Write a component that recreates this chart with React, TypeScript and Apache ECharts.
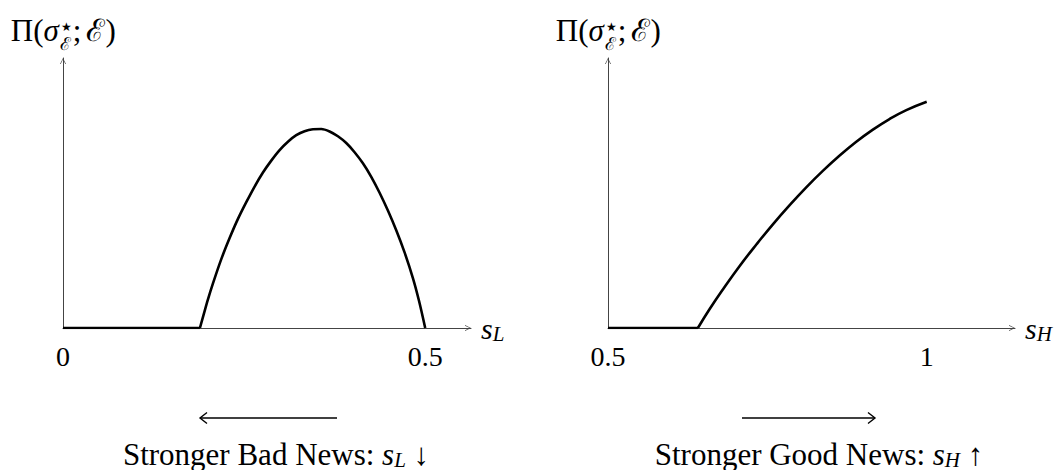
import React, { useEffect, useRef } from "react";
import * as echarts from "echarts";

const FONT = '"Liberation Serif", "DejaVu Serif", serif';

// ---- Left panel: payoff against s_L ----
const leftTickValues = [0, 0.5];
const leftAxisMax = 0.5632;
const leftFlat: [number, number][] = [
  [0, 0],
  [0.189, 0],
];
const leftCurve: [number, number][] = [
  [0.189, 0],
  [0.195, 0.058],
  [0.2, 0.105],
  [0.207, 0.165],
  [0.2185, 0.255],
  [0.23, 0.333],
  [0.2415, 0.404],
  [0.253, 0.466],
  [0.2645, 0.524],
  [0.276, 0.576],
  [0.2875, 0.62],
  [0.299, 0.659],
  [0.3105, 0.69],
  [0.322, 0.714],
  [0.3335, 0.729],
  [0.345, 0.736],
  [0.3565, 0.737],
  [0.368, 0.728],
  [0.3795, 0.71],
  [0.391, 0.685],
  [0.4025, 0.651],
  [0.414, 0.61],
  [0.4255, 0.56],
  [0.437, 0.501],
  [0.4485, 0.435],
  [0.46, 0.362],
  [0.4715, 0.28],
  [0.483, 0.185],
  [0.4915, 0.1],
  [0.5, 0],
];

// ---- Right panel: payoff against s_H ----
const rightTickValues = [0.5, 1];
const rightAxisMax = 1.1385;
const rightFlat: [number, number][] = [
  [0.5, 0],
  [0.641, 0],
];
const rightCurve: [number, number][] = [
  [0.641, 0],
  [0.66, 0.072],
  [0.68, 0.142],
  [0.706, 0.228],
  [0.733, 0.31],
  [0.759, 0.385],
  [0.785, 0.455],
  [0.811, 0.521],
  [0.837, 0.582],
  [0.863, 0.638],
  [0.889, 0.689],
  [0.915, 0.734],
  [0.941, 0.773],
  [0.968, 0.807],
  [1, 0.838],
];

const leftAxisSub = "L";
const rightAxisSub = "H";
const leftCaption = "Stronger Bad News: ";
const rightCaption = "Stronger Good News: ";

function measure(text: string, size: number, italic = false): number {
  const c = document.createElement("canvas").getContext("2d");
  if (!c) return text.length * size * 0.5;
  c.font = `${italic ? "italic " : ""}${size}px ${FONT}`;
  return c.measureText(text).width;
}

function txt(x: number, y: number, text: string, size: number, italic = false) {
  return {
    type: "text",
    x,
    y,
    silent: true,
    style: {
      text,
      fontSize: size,
      fontFamily: FONT,
      fontStyle: italic ? "italic" : "normal",
      fill: "#000",
      align: "left",
      verticalAlign: "middle",
    },
  };
}

function titleElements(cx: number) {
  const fs = 31;
  const fsStar = 12;
  const fsS = 18;
  const baseline = 41;
  const mid = baseline - 0.34 * fs;
  const wA = measure("Π(", fs);
  const wSig = measure("σ", fs, true);
  const wStar = measure("★", fsStar);
  const wE = measure("ℰ", fsS);
  const wScript = Math.max(wStar, wE);
  const wSemi = measure(";", fs);
  const wE2 = measure("ℰ", fs);
  const wP = measure(")", fs);
  const total = wA + wSig + 1 + wScript + 2 + wSemi + 5 + wE2 + wP;
  let x = cx - total / 2;
  const els: any[] = [];
  els.push(txt(x, mid, "Π(", fs));
  x += wA;
  els.push(txt(x, mid, "σ", fs, true));
  x += wSig + 1;
  els.push(txt(x + (wScript - wStar) / 2 + 1, 27, "★", fsStar));
  els.push(txt(x, 43.5, "ℰ", fsS));
  x += wScript + 2;
  els.push(txt(x, mid, ";", fs));
  x += wSemi + 5;
  els.push(txt(x, mid, "ℰ", fs));
  x += wE2;
  els.push(txt(x, mid, ")", fs));
  return els;
}

const richAxis = {
  s: { fontStyle: "italic", fontSize: 30, lineHeight: 32, fontFamily: FONT, color: "#000" },
  sub: {
    fontStyle: "italic",
    fontSize: 21,
    lineHeight: 21,
    verticalAlign: "bottom",
    fontFamily: FONT,
    color: "#000",
  },
};

const richCaption = {
  s: { fontStyle: "italic", fontSize: 31, lineHeight: 32, fontFamily: FONT, color: "#000" },
  sub: {
    fontStyle: "italic",
    fontSize: 21,
    lineHeight: 21,
    verticalAlign: "bottom",
    fontFamily: FONT,
    color: "#000",
  },
};

const arrowSym = "path://M0,10 L5,0 L10,10 L8.8,10 L5,2.2 L1.2,10 Z";

function xAxisCfg(grid: number, min: number, max: number, ticks: number[], sub: string) {
  return {
    type: "value",
    gridIndex: grid,
    min,
    max,
    interval: 0.5,
    axisLine: {
      show: true,
      onZero: false,
      symbol: ["none", arrowSym],
      symbolSize: [10, 6],
      symbolOffset: [0, -3],
      lineStyle: { color: "#444", width: 1 },
    },
    axisTick: { show: false },
    splitLine: { show: false },
    axisLabel: {
      show: true,
      showMaxLabel: false,
      margin: 14,
      color: "#000",
      fontSize: 28,
      fontFamily: FONT,
      formatter: (v: number) => (ticks.some((t) => Math.abs(t - v) < 1e-9) ? String(v) : ""),
    },
    name: `{s|s}{sub|${sub}}`,
    nameLocation: "end",
    nameGap: 10,
    nameTextStyle: { fontFamily: FONT, fontSize: 30, color: "#000", rich: richAxis },
  };
}

function yAxisCfg(grid: number) {
  return {
    type: "value",
    gridIndex: grid,
    min: 0,
    max: 1,
    axisLine: {
      show: true,
      onZero: false,
      symbol: ["none", arrowSym],
      symbolSize: [10, 6],
      symbolOffset: [0, -3],
      lineStyle: { color: "#444", width: 1 },
    },
    axisTick: { show: false },
    axisLabel: { show: false },
    splitLine: { show: false },
  };
}

function lineSeries(axis: number, data: [number, number][], smooth: number | boolean) {
  return {
    type: "line",
    xAxisIndex: axis,
    yAxisIndex: axis,
    data,
    smooth,
    symbol: "none",
    lineStyle: { color: "#000", width: 2.6 },
    z: 5,
  };
}

function bottomArrow(x1: number, x2: number, y: number, headLeft: boolean) {
  const hx = headLeft ? x1 : x2;
  const d = headLeft ? 7 : -7;
  return [
    {
      type: "line",
      silent: true,
      shape: { x1, y1: y, x2, y2: y },
      style: { stroke: "#000", lineWidth: 1.6 },
    },
    {
      type: "polyline",
      silent: true,
      shape: {
        points: [
          [hx + d, y - 5.5],
          [hx, y],
          [hx + d, y + 5.5],
        ],
      },
      style: { stroke: "#000", lineWidth: 1.4, fill: "none" },
    },
  ];
}

function caption(cx: number, y: number, prefix: string, sub: string, arrow: string) {
  return {
    type: "text",
    x: cx,
    y,
    silent: true,
    style: {
      text: `${prefix}{s|s}{sub|${sub}} ${arrow}`,
      rich: richCaption,
      fontSize: 31,
      fontFamily: FONT,
      lineHeight: 32,
      fill: "#000",
      align: "center",
      verticalAlign: "middle",
    },
  };
}

export default function App() {
  const ref = useRef<HTMLDivElement>(null);

  useEffect(() => {
    document.body.style.margin = "0";
    document.body.style.overflow = "hidden";
    if (!ref.current) return;
    const chart = echarts.init(ref.current, undefined, { renderer: "svg" });
    const option: any = {
      animation: false,
      backgroundColor: "#fff",
      grid: [
        { left: 63, top: 58, width: 408, height: 270 },
        { left: 608, top: 58, width: 407, height: 270 },
      ],
      xAxis: [
        xAxisCfg(0, 0, leftAxisMax, leftTickValues, leftAxisSub),
        xAxisCfg(1, 0.5, rightAxisMax, rightTickValues, rightAxisSub),
      ],
      yAxis: [yAxisCfg(0), yAxisCfg(1)],
      series: [
        lineSeries(0, leftFlat, false),
        lineSeries(0, leftCurve, 0.3),
        lineSeries(1, rightFlat, false),
        lineSeries(1, rightCurve, 0.45),
      ],
      graphic: [
        ...titleElements(63.3),
        ...titleElements(608.3),
        ...bottomArrow(200, 337, 418, true),
        ...bottomArrow(742, 875, 418, false),
        caption(276, 454, leftCaption, leftAxisSub, "↓"),
        caption(819, 454, rightCaption, rightAxisSub, "↑"),
      ],
    };
    chart.setOption(option);
    return () => chart.dispose();
  }, []);

  return <div ref={ref} style={{ width: 1060, height: 470 }} />;
}
